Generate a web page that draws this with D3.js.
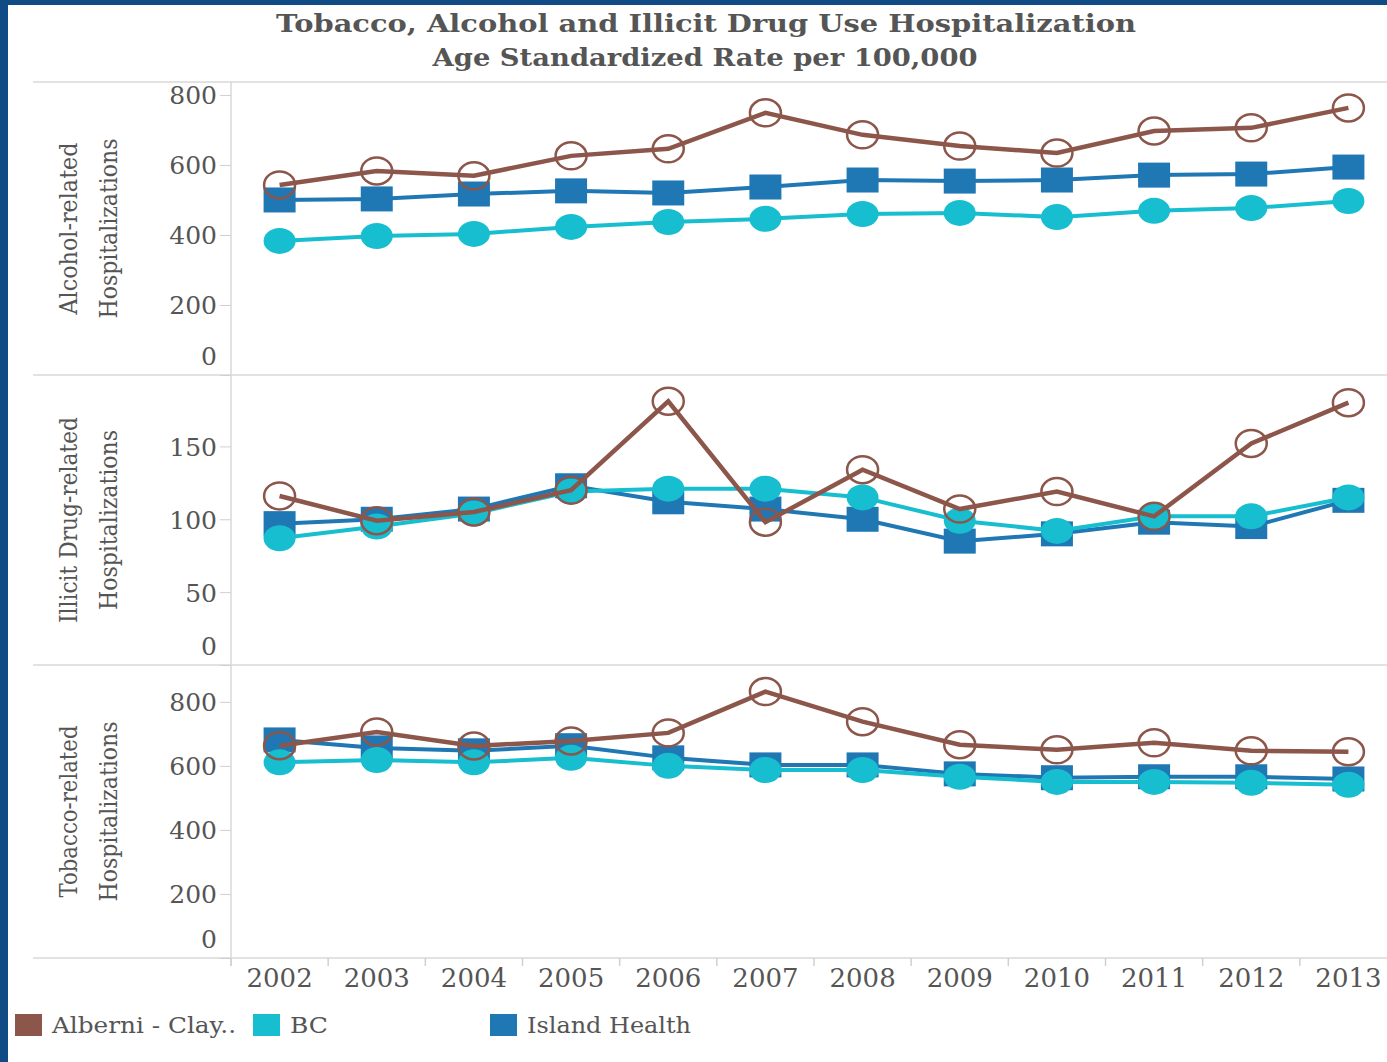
<!DOCTYPE html>
<html>
<head>
<meta charset="utf-8">
<script src="https://cdn.jsdelivr.net/npm/d3@7"></script>
<style>
  body { margin: 0; background: #fff; }
  svg { display: block; }
  text { font-family: "DejaVu Serif", "Liberation Serif", serif; fill: #555; }
</style>
</head>
<body>
<script>
let width = 1387
let height = 1062

let years = ["2002","2003","2004","2005","2006","2007","2008","2009","2010","2011","2012","2013"]
let seriesNames = ["Alberni - Clay..", "BC", "Island Health"]
let colors = { alberni: "#8c564b", bc: "#17becf", island: "#1f77b4" }

// alcohol-related hospitalizations
let alcoholAlberni = [543, 583, 569, 626, 646, 749, 686, 654, 634, 697, 706, 763]
let alcoholBC      = [383, 397, 403, 423, 437, 446, 460, 463, 451, 469, 477, 497]
let alcoholIsland  = [500, 503, 517, 526, 520, 537, 557, 554, 557, 571, 574, 594]

// illicit drug-related hospitalizations
let drugAlberni = [116, 99, 105, 120, 181, 98, 134, 107, 119, 102, 152, 180]
let drugBC      = [87, 95, 104, 119, 121, 121, 115, 99, 92, 102, 102, 115]
let drugIsland  = [97, 100, 107, 123, 112, 107, 100, 85, 90, 98, 95, 113]

// tobacco-related hospitalizations
let tobaccoAlberni = [663, 706, 662, 678, 703, 832, 738, 666, 650, 672, 647, 644]
let tobaccoBC      = [611, 618, 611, 625, 600, 587, 587, 566, 550, 550, 547, 541]
let tobaccoIsland  = [681, 656, 647, 663, 625, 603, 603, 575, 563, 566, 566, 559]

let alcoholTicks = [0, 200, 400, 600, 800]
let drugTicks = [0, 50, 100, 150]
let tobaccoTicks = [0, 200, 400, 600, 800]

let panels = [
    { title: ["Alcohol-related", "Hospitalizations"], top: 82, bottom: 375, max: 837, ticks: alcoholTicks,
      alberni: alcoholAlberni, bc: alcoholBC, island: alcoholIsland },
    { title: ["Illicit Drug-related", "Hospitalizations"], top: 375, bottom: 665, max: 199, ticks: drugTicks,
      alberni: drugAlberni, bc: drugBC, island: drugIsland },
    { title: ["Tobacco-related", "Hospitalizations"], top: 665, bottom: 958, max: 915, ticks: tobaccoTicks,
      alberni: tobaccoAlberni, bc: tobaccoBC, island: tobaccoIsland }
]

let svg = d3.select("body").append("svg")
    .attr("width", width)
    .attr("height", height)

// frame
svg.append("rect").attr("x", 0).attr("y", 0).attr("width", width).attr("height", 5).attr("fill", "#114b86")
svg.append("rect").attr("x", 0).attr("y", 0).attr("width", 8).attr("height", height).attr("fill", "#114b86")

// title
svg.append("text")
    .attr("x", 706).attr("y", 32)
    .attr("text-anchor", "middle")
    .attr("font-size", 25).attr("font-weight", "bold")
    .attr("textLength", 860).attr("lengthAdjust", "spacingAndGlyphs")
    .text("Tobacco, Alcohol and Illicit Drug Use Hospitalization")
svg.append("text")
    .attr("x", 705).attr("y", 66)
    .attr("text-anchor", "middle")
    .attr("font-size", 25).attr("font-weight", "bold")
    .attr("textLength", 545).attr("lengthAdjust", "spacingAndGlyphs")
    .text("Age Standardized Rate per 100,000")

let x = d3.scaleBand().domain(years).range([231, 1397])
let axisX = 231

// panel separators
let seps = [82, 375, 665, 958]
svg.selectAll(".sep").data(seps).enter().append("line")
    .attr("class", "sep")
    .attr("x1", 33).attr("x2", width)
    .attr("y1", d => d).attr("y2", d => d)
    .attr("stroke", "#d9d9d9").attr("stroke-width", 1.5)

svg.append("line")
    .attr("x1", axisX).attr("x2", axisX).attr("y1", 82).attr("y2", 966)
    .attr("stroke", "#d9d9d9").attr("stroke-width", 1.5)

let line = (y) => d3.line().x((d, i) => x(years[i]) + x.bandwidth() / 2).y(d => y(d))

panels.forEach(p => {
    let y = d3.scaleLinear().domain([0, p.max]).range([p.bottom, p.top])

    let g = svg.append("g").attr("transform", "translate(" + axisX + ",0)")
        .call(d3.axisLeft(y).tickValues(p.ticks).tickSize(11).tickPadding(3).tickSizeOuter(0))
    g.select(".domain").remove()
    g.selectAll(".tick line").attr("stroke", "#d0d0d0")
    g.selectAll(".tick text")
        .attr("font-family", "DejaVu Serif")
        .attr("font-size", 25).attr("fill", "#555")
        .attr("dy", d => d === 0 ? "-0.42em" : "0.36em")

    let cy = (p.top + p.bottom) / 2
    svg.append("text")
        .attr("transform", "translate(77," + cy + ") rotate(-90)")
        .attr("text-anchor", "middle")
        .attr("font-size", 24)
        .attr("textLength", p.title[0].length > 16 ? 206 : 172).attr("lengthAdjust", "spacingAndGlyphs")
        .text(p.title[0])
    svg.append("text")
        .attr("transform", "translate(117," + cy + ") rotate(-90)")
        .attr("text-anchor", "middle")
        .attr("font-size", 24)
        .attr("textLength", 180).attr("lengthAdjust", "spacingAndGlyphs")
        .text(p.title[1])

    // island health: squares
    svg.append("path").datum(p.island)
        .attr("d", line(y)).attr("fill", "none")
        .attr("stroke", colors.island).attr("stroke-width", 4)
    svg.selectAll(null).data(p.island).enter().append("rect")
        .attr("x", (d, i) => x(years[i]) + x.bandwidth() / 2 - 16)
        .attr("y", d => y(d) - 12.5)
        .attr("width", 32).attr("height", 25)
        .attr("fill", colors.island)

    // BC: filled circles
    svg.append("path").datum(p.bc)
        .attr("d", line(y)).attr("fill", "none")
        .attr("stroke", colors.bc).attr("stroke-width", 4)
    svg.selectAll(null).data(p.bc).enter().append("ellipse")
        .attr("cx", (d, i) => x(years[i]) + x.bandwidth() / 2)
        .attr("cy", d => y(d))
        .attr("rx", 16).attr("ry", 13)
        .attr("fill", colors.bc)

    // Alberni: open circles
    svg.append("path").datum(p.alberni)
        .attr("d", line(y)).attr("fill", "none")
        .attr("stroke", colors.alberni).attr("stroke-width", 4.5)
    svg.selectAll(null).data(p.alberni).enter().append("ellipse")
        .attr("cx", (d, i) => x(years[i]) + x.bandwidth() / 2)
        .attr("cy", d => y(d))
        .attr("rx", 15.5).attr("ry", 13.5)
        .attr("fill", "none")
        .attr("stroke", colors.alberni).attr("stroke-width", 2.5)
})

// x axis
let gx = svg.append("g").attr("transform", "translate(0,958)")
    .call(d3.axisBottom(x).tickSize(0).tickPadding(11))
gx.select(".domain").remove()
gx.selectAll(".tick text")
    .attr("font-family", "DejaVu Serif")
    .attr("font-size", 26).attr("fill", "#555")
svg.selectAll(".xtick").data(years).enter().append("line")
    .attr("class", "xtick")
    .attr("x1", d => x(d)).attr("x2", d => x(d))
    .attr("y1", 958).attr("y2", 966)
    .attr("stroke", "#d0d0d0").attr("stroke-width", 1.5)

// legend
let legendItems = [
    { name: seriesNames[0], color: colors.alberni, x: 15, w: 184 },
    { name: seriesNames[1], color: colors.bc, x: 253, w: 38 },
    { name: seriesNames[2], color: colors.island, x: 490, w: 164 }
]
let lg = svg.selectAll(".legend").data(legendItems).enter().append("g")
    .attr("class", "legend")
    .attr("transform", d => "translate(" + d.x + ",1014)")
lg.append("rect").attr("width", 27).attr("height", 22).attr("fill", d => d.color)
lg.append("text")
    .attr("x", 37).attr("y", 19)
    .attr("font-size", 22)
    .attr("textLength", d => d.w).attr("lengthAdjust", "spacingAndGlyphs")
    .text(d => d.name)
</script>
</body>
</html>
